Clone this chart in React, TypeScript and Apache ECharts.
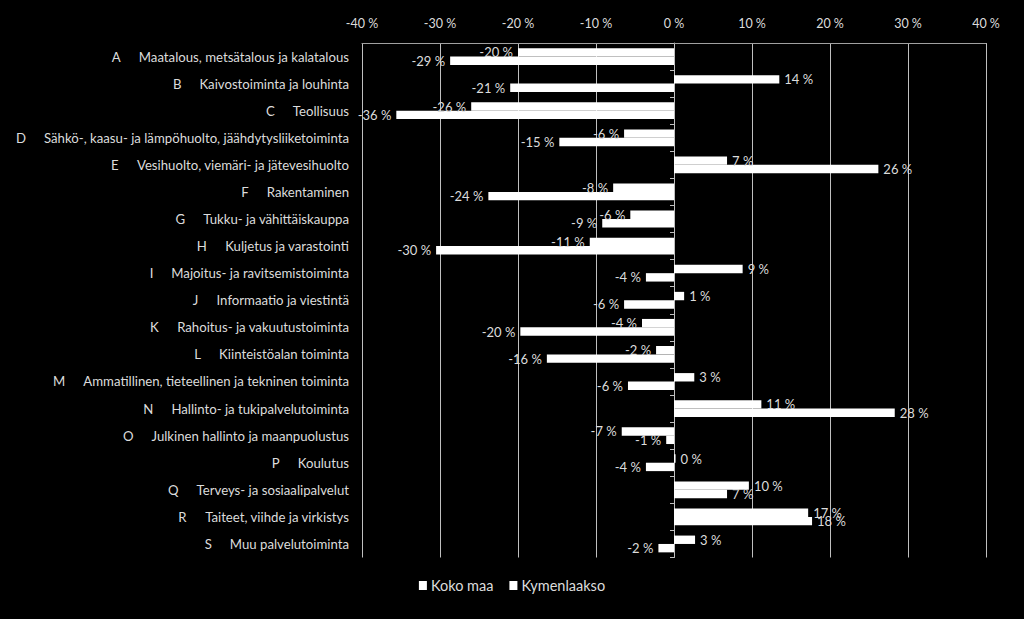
import React, { useEffect, useRef } from 'react';
import * as echarts from 'echarts';

const codes = ['A', 'B', 'C', 'D', 'E', 'F', 'G', 'H', 'I', 'J', 'K', 'L', 'M', 'N', 'O', 'P', 'Q', 'R', 'S'];
const names = [
  'Maatalous, metsätalous ja kalatalous',
  'Kaivostoiminta ja louhinta',
  'Teollisuus',
  'Sähkö-, kaasu- ja lämpöhuolto, jäähdytysliiketoiminta',
  'Vesihuolto, viemäri- ja jätevesihuolto',
  'Rakentaminen',
  'Tukku- ja vähittäiskauppa',
  'Kuljetus ja varastointi',
  'Majoitus- ja ravitsemistoiminta',
  'Informaatio ja viestintä',
  'Rahoitus- ja vakuutustoiminta',
  'Kiinteistöalan toiminta',
  'Ammatillinen, tieteellinen ja tekninen toiminta',
  'Hallinto- ja tukipalvelutoiminta',
  'Julkinen hallinto ja maanpuolustus',
  'Koulutus',
  'Terveys- ja sosiaalipalvelut',
  'Taiteet, viihde ja virkistys',
  'Muu palvelutoiminta',
];
const kokoMaa = [-20, 13.5, -26, -6.4, 6.8, -7.8, -5.6, -10.8, 8.8, 1.3, -4.1, -2.3, 2.6, 11.2, -6.7, 0.2, 9.6, 17.2, 2.7];
const kymenlaakso = [-28.7, -21, -35.6, -14.7, 26.2, -23.8, -9.2, -30.5, -3.6, -6.4, -19.7, -16.3, -5.9, 28.3, -1, -3.6, 6.8, 17.7, -2];
const seriesNames = ['Koko maa', 'Kymenlaakso'];
const xMin = -40;
const xMax = 40;
const xStep = 10;

const FONT = 'Lato, "Liberation Sans", sans-serif';
const TXT = '#dcdcdc';

export default function App() {
  const ref = useRef<HTMLDivElement>(null);
  useEffect(() => {
    const chart = echarts.init(ref.current!, null, { renderer: 'svg' });
    const fmt = (p: any) => {
      const v = Math.round(p.value) + 0;
      return `${v} %`;
    };
    const mk = (vals: number[]) =>
      vals.map((v) => ({ value: v, label: { position: v < 0 ? 'left' : 'right' } }));
    const labelCfg = {
      show: true,
      formatter: fmt,
      color: TXT,
      fontSize: 13,
      fontFamily: FONT,
      distance: 5,
      textBorderWidth: 0,
    };
    chart.setOption({
      animation: false,
      backgroundColor: '#000',
      grid: { left: 362, right: 38, top: 43, bottom: 61.5, containLabel: false },
      legend: {
        bottom: 21,
        left: 'center',
        icon: 'rect',
        itemWidth: 8,
        itemHeight: 9,
        itemGap: 16,
        textStyle: { color: TXT, fontSize: 14.5, fontFamily: FONT, padding: [0, 0, 0, -1] },
        data: seriesNames,
      },
      xAxis: {
        type: 'value',
        position: 'top',
        min: xMin,
        max: xMax,
        interval: xStep,
        axisLine: { show: true, onZero: false, lineStyle: { color: '#a0a0a0', width: 1 } },
        axisTick: { show: false },
        splitLine: { show: true, lineStyle: { color: '#bfbfbf', width: 1 } },
        axisLabel: {
          color: TXT,
          fontSize: 12.5,
          fontFamily: FONT,
          margin: 13,
          formatter: (v: number) => `${v} %`,
        },
      },
      yAxis: [
        {
          type: 'category',
          data: codes,
          inverse: true,
          position: 'left',
          axisLine: { show: false, onZero: false },
          axisTick: { show: false },
          axisLabel: {
            margin: 13,
            formatter: (v: string, i: number) => `{c|${v}}{n|${names[i]}}`,
            rich: {
              c: { color: TXT, fontSize: 13.2, fontFamily: FONT, padding: [0, 18, 0, 0] },
              n: { color: TXT, fontSize: 13.2, fontFamily: FONT },
            },
          },
        },
        {
          type: 'category',
          data: codes,
          inverse: true,
          position: 'left',
          axisLine: { show: true, onZero: true, lineStyle: { color: '#bfbfbf', width: 1 } },
          axisTick: { show: true, length: 4, lineStyle: { color: '#bfbfbf' } },
          axisLabel: { show: false },
        },
      ],
      series: [
        {
          name: seriesNames[0],
          type: 'bar',
          yAxisIndex: 0,
          data: mk(kokoMaa),
          barGap: '0%',
          barCategoryGap: '38%',
          itemStyle: { color: '#ffffff' },
          label: labelCfg,
        },
        {
          name: seriesNames[1],
          type: 'bar',
          yAxisIndex: 0,
          data: mk(kymenlaakso),
          barGap: '0%',
          barCategoryGap: '38%',
          itemStyle: { color: '#ffffff' },
          label: labelCfg,
        },
      ],
    });
    return () => chart.dispose();
  }, []);
  return (
    <div
      ref={ref}
      style={{ position: 'fixed', left: 0, top: 0, width: 1024, height: 619, background: '#000' }}
    />
  );
}
